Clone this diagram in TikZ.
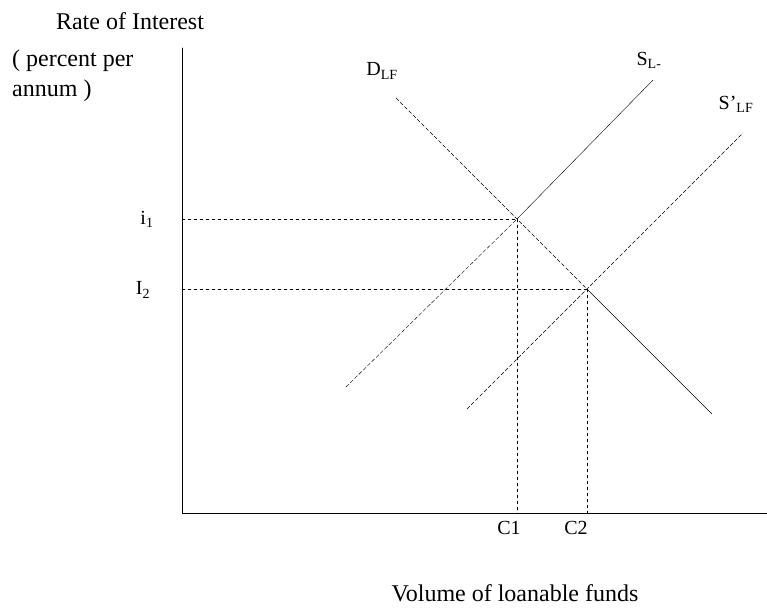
\documentclass[tikz,border=0pt]{standalone}
\usepackage{fontspec}
\setmainfont{Liberation Serif}
\usetikzlibrary{positioning}

\begin{document}
\begin{tikzpicture}[x=1pt,y=-1pt,line cap=round,
  curve/.style={thin,dash pattern=on 4pt off 2pt},
  solidcurve/.style={thin},
  guide/.style={thin,dash pattern=on 3pt off 3pt},
  biglbl/.style={inner sep=0pt,font=\fontsize{24}{28}\selectfont},
  lbl/.style={inner sep=0pt,font=\fontsize{20}{24}\selectfont}]
\useasboundingbox (0,0) rectangle (767,610);
% Achsen
\coordinate (O) at (182,513);
\coordinate (ytop) at (182,48);
\coordinate (xend) at (767,513);
\draw[thick] (ytop) -- (O) -- (xend);
% Kurven
\coordinate (D1) at (396,98);
\coordinate (D2) at (712,414);
\coordinate (S1) at (346,387);
\coordinate (S2) at (653,80);
\coordinate (T1) at (467,409);
\coordinate (T2) at (743,133);
\coordinate (E1) at (517,219);
\coordinate (E2) at (587,289);
\draw[curve] (D1) -- (E2);
\draw[solidcurve] (E2) -- (D2);
\draw[curve] (S1) -- (E1);
\draw[solidcurve] (E1) -- (S2);
\draw[curve] (T1) -- (T2);
% Hilfslinien
\draw[guide] (E1 -| O) -- (E1);
\draw[guide] (E2 -| O) -- (E2);
\draw[guide] (E1) -- (E1 |- O);
\draw[guide] (E2) -- (E2 |- O);
% Beschriftungen
\node[biglbl] (yt) at (130,21) {Rate of Interest};
\node[biglbl,anchor=west] (yu1) at (12,61) {( percent per};
\node[biglbl,anchor=west] (yu2) at (12,91) {annum )};
\node[lbl] (i1) at (147,219) {i\textsubscript{1}};
\node[lbl] (i2) at (143,290) {I\textsubscript{2}};
\node[lbl] (dl) at (382,71) {D\textsubscript{LF}};
\node[lbl] (sl) at (649,60) {S\textsubscript{L-}};
\node[lbl] (sl2) at (736,104) {S'\textsubscript{LF}};
\node[lbl] (c1) at (509,528) {C1};
\node[lbl] (c2) at (576,528) {C2};
\node[biglbl] (xt) at (515,593) {Volume of loanable funds};
\end{tikzpicture}
\end{document}
